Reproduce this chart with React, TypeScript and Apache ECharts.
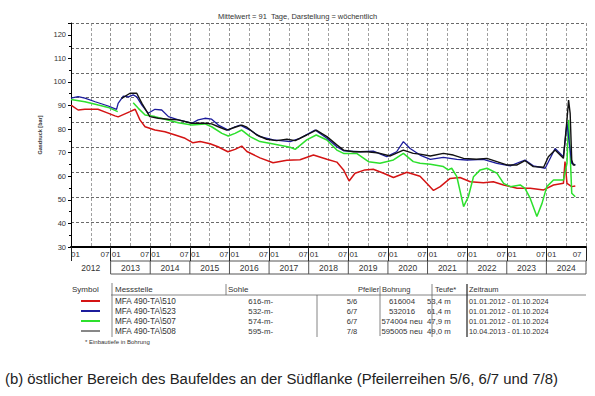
import React, { useEffect, useRef } from "react";
import * as echarts from "echarts";

// x values are decimal years (2012.0 = 01.01.2012)
const redSeries: [number, number][] = [
  [2012.0, 90.2], [2012.18, 88.1], [2012.35, 88.4], [2012.68, 88.4], [2012.9, 87.0], [2013.11, 85.6],
  [2013.19, 85.2], [2013.49, 87.4], [2013.62, 88.4], [2013.74, 83.9], [2013.87, 81.0], [2014.12, 79.6],
  [2014.37, 78.9], [2014.63, 77.5], [2014.88, 76.1], [2015.08, 74.2], [2015.26, 74.7], [2015.51, 73.8],
  [2015.71, 72.5], [2015.96, 70.4], [2016.14, 71.4], [2016.31, 72.8], [2016.44, 70.5], [2016.77, 67.8],
  [2017.1, 65.7], [2017.45, 66.8], [2017.78, 67.0], [2018.12, 69.0], [2018.46, 67.2], [2018.71, 66.0],
  [2018.88, 62.7], [2019.02, 58.0], [2019.17, 61.3], [2019.42, 62.7], [2019.63, 63.0], [2019.89, 61.3],
  [2020.14, 59.5], [2020.48, 61.7], [2020.81, 60.0], [2020.98, 57.0], [2021.15, 54.0], [2021.32, 55.6],
  [2021.57, 59.1], [2021.82, 59.5], [2022.08, 57.7], [2022.41, 57.3], [2022.66, 57.7], [2022.92, 56.3],
  [2023.26, 54.9], [2023.59, 54.9], [2023.93, 54.2], [2024.18, 56.3], [2024.43, 57.0], [2024.47, 66.2],
  [2024.52, 57.0], [2024.64, 55.6], [2024.73, 55.9],
];

const blueSeries: [number, number][] = [
  [2012.0, 93.1], [2012.18, 93.8], [2012.35, 93.1], [2012.61, 91.6], [2012.94, 89.8], [2013.15, 88.4],
  [2013.19, 90.9], [2013.32, 94.0], [2013.45, 93.7], [2013.57, 94.5], [2013.66, 93.7], [2013.79, 90.2],
  [2013.95, 86.7], [2014.12, 88.4], [2014.29, 88.1], [2014.46, 85.3], [2014.71, 83.9], [2015.05, 82.5],
  [2015.21, 83.9], [2015.38, 84.6], [2015.55, 84.2], [2015.72, 81.7], [2015.97, 79.6], [2016.14, 81.0],
  [2016.27, 81.7], [2016.52, 79.6], [2016.77, 76.8], [2017.11, 75.4], [2017.53, 74.7], [2017.78, 76.1],
  [2018.16, 79.6], [2018.46, 76.1], [2018.71, 72.5], [2018.88, 70.8], [2019.3, 70.4], [2019.63, 70.7],
  [2019.97, 68.3], [2020.22, 70.4], [2020.39, 74.7], [2020.56, 71.8], [2020.81, 69.0], [2021.07, 67.2],
  [2021.4, 68.0], [2021.74, 67.2], [2021.99, 66.9], [2022.41, 67.2], [2022.75, 65.5], [2023.09, 64.4],
  [2023.46, 66.9], [2023.67, 64.4], [2023.97, 63.4], [2024.22, 71.8], [2024.43, 68.3], [2024.52, 82.5],
  [2024.64, 65.5], [2024.73, 64.8],
];

const greenSeries: [number, number | string][] = [
  [2012.0, 92.6], [2012.35, 91.6], [2012.69, 90.2], [2012.94, 89.2], [2013.18, 87.4], [2013.3, "-"],
  [2013.57, 91.2], [2013.7, 88.8], [2013.87, 86.0], [2014.12, 85.3], [2014.37, 84.2], [2014.71, 82.7],
  [2015.05, 81.7], [2015.38, 82.2], [2015.55, 81.0], [2015.81, 78.2], [2015.97, 77.1], [2016.14, 78.2],
  [2016.31, 79.6], [2016.52, 76.8], [2016.77, 74.7], [2017.11, 73.7], [2017.53, 72.3], [2017.66, 71.4],
  [2017.95, 75.4], [2018.19, 77.5], [2018.46, 75.4], [2018.71, 71.1], [2018.88, 69.7], [2019.21, 69.7],
  [2019.51, 66.2], [2019.8, 65.5], [2020.14, 66.9], [2020.39, 69.7], [2020.64, 66.2], [2020.81, 65.5],
  [2021.07, 65.1], [2021.4, 64.1], [2021.52, 62.7], [2021.61, 63.4], [2021.74, 59.8], [2021.91, 47.1],
  [2022.03, 51.3], [2022.16, 59.8], [2022.33, 62.7], [2022.5, 63.4], [2022.75, 61.3], [2022.92, 57.0],
  [2023.09, 55.6], [2023.34, 56.3], [2023.46, 54.9], [2023.59, 50.7], [2023.76, 42.9], [2023.89, 48.5],
  [2024.01, 55.6], [2024.18, 58.4], [2024.43, 58.4], [2024.52, 65.5], [2024.56, 83.9], [2024.6, 69.7],
  [2024.64, 52.8], [2024.73, 51.3],
];

const blackSeries: [number, number][] = [
  [2013.28, 93.0], [2013.49, 95.2], [2013.66, 95.2], [2013.79, 90.9], [2013.99, 85.3], [2014.2, 84.6],
  [2014.46, 84.2], [2014.71, 83.9], [2015.05, 82.5], [2015.38, 82.5], [2015.55, 82.2], [2015.72, 81.0],
  [2015.93, 79.6], [2016.14, 80.8], [2016.31, 81.7], [2016.44, 80.8], [2016.69, 77.5], [2016.94, 75.7],
  [2017.19, 75.1], [2017.45, 75.7], [2017.66, 75.1], [2017.95, 77.5], [2018.19, 79.6], [2018.46, 76.8],
  [2018.71, 73.3], [2018.88, 71.1], [2019.13, 70.4], [2019.47, 70.4], [2019.72, 70.0], [2020.06, 68.6],
  [2020.39, 71.1], [2020.64, 69.7], [2020.81, 69.4], [2021.07, 68.6], [2021.4, 69.7], [2021.65, 69.0],
  [2021.91, 67.6], [2022.24, 67.2], [2022.5, 67.6], [2022.75, 66.2], [2023.0, 64.8], [2023.26, 64.8],
  [2023.46, 66.6], [2023.67, 64.1], [2023.93, 63.8], [2024.05, 68.3], [2024.22, 71.1], [2024.43, 67.6],
  [2024.52, 83.9], [2024.56, 92.3], [2024.6, 86.7], [2024.64, 66.9], [2024.68, 64.8], [2024.73, 64.8],
];

const yearLabels = ["2012", "2013", "2014", "2015", "2016", "2017", "2018", "2019", "2020", "2021", "2022", "2023", "2024"];
const yTickValues = [30, 40, 50, 60, 70, 80, 90, 100, 110, 120];

const stationNames = ["MFA 490-TA\\510", "MFA 490-TA\\523", "MFA 490-TA\\507", "MFA 490-TA\\508"];
const sohleValues = ["616-m-", "532-m-", "574-m-", "595-m-"];
const pfeilerValues = ["5/6", "6/7", "6/7", "7/8"];
const bohrungValues = ["616004", "532016", "574004 neu", "595005 neu"];
const teufeValues = ["53,4 m", "61,4 m", "47,9 m", "49,0 m"];
const zeitraumValues = ["01.01.2012 - 01.10.2024", "01.01.2012 - 01.10.2024", "01.01.2012 - 01.10.2024", "10.04.2013 - 01.10.2024"];
const seriesColors = ["#d41414", "#1c1c9c", "#2de02d", "#111111"];

const FONT = "Liberation Sans, Arial, sans-serif";

export default function App() {
  const ref = useRef<HTMLDivElement>(null);
  useEffect(() => {
    document.body.style.margin = "0";
    const chart = echarts.init(ref.current!, null, { renderer: "svg" });
    const gridLeft = 71, gridRight = 9, gridTop = 23, gridBottomY = 247;
    chart.setOption({
      animation: false,
      backgroundColor: "#ffffff",
      textStyle: { fontFamily: FONT },
      title: {
        text: "Mittelwert = 91  Tage, Darstellung = wöchentlich",
        left: "center",
        top: 7,
        textStyle: { fontSize: 7.5, fontWeight: "normal", color: "#333", fontFamily: FONT },
      },
      grid: { left: gridLeft, right: gridRight, top: gridTop, bottom: 396 - gridBottomY, containLabel: false },
      xAxis: [
        {
          type: "value",
          min: 2012,
          max: 2025,
          interval: 1,
          axisLine: { show: true, lineStyle: { color: "#000", width: 2 } },
          axisTick: { show: true, length: 14, lineStyle: { color: "#222", width: 1 } },
          axisLabel: {
            show: true,
            margin: 3,
            fontSize: 8,
            color: "#333",
            fontFamily: FONT,
            alignMinLabel: "left",
            alignMaxLabel: "right",
            formatter: (v: number) => (v === 2012 ? "01" : v === 2025 ? "07  " : "07 01"),
          },
          splitLine: { show: true, lineStyle: { color: "#777", type: [3, 2], width: 0.8 } },
          minorTick: { show: false, splitNumber: 2 },
          minorSplitLine: { show: true, lineStyle: { color: "#888", type: [3, 2], width: 0.8 } },
        },
        {
          type: "category",
          data: yearLabels,
          position: "bottom",
          offset: 14,
          boundaryGap: true,
          axisLine: { show: false },
          axisTick: { show: false },
          axisLabel: { margin: 2, fontSize: 8.5, color: "#333", fontFamily: FONT, interval: 0 },
          splitLine: { show: false },
        },
      ],
      yAxis: [
        {
          type: "value",
          min: 30,
          max: 125,
          interval: 10,
          axisLine: { show: true, lineStyle: { color: "#000", width: 1 } },
          axisTick: { show: true, length: 3, lineStyle: { color: "#000" } },
          minorTick: { show: true, splitNumber: 2, length: 2, lineStyle: { color: "#000" } },
          axisLabel: {
            fontSize: 7.5,
            color: "#333",
            margin: 5,
            fontFamily: FONT,
            showMaxLabel: false,
            formatter: (v: number) => (yTickValues.includes(v) ? String(v) : ""),
          },
          splitLine: { show: false },
          name: "Gasdruck [bar]",
          nameLocation: "middle",
          nameGap: 23,
          nameTextStyle: { fontSize: 5.5, color: "#333", fontWeight: "bold", fontFamily: FONT },
        },
        {
          type: "value",
          min: 0,
          max: 9,
          interval: 1,
          axisLine: { show: false },
          axisTick: { show: false },
          axisLabel: { show: false },
          splitLine: { show: true, lineStyle: { color: "#444", type: [3, 2], width: 0.8 } },
        },
      ],
      series: [
        { type: "line", name: stationNames[0], data: redSeries, showSymbol: false, lineStyle: { color: seriesColors[0], width: 1.5 }, itemStyle: { color: seriesColors[0] }, z: 2 },
        { type: "line", name: stationNames[2], data: greenSeries, showSymbol: false, connectNulls: false, lineStyle: { color: seriesColors[2], width: 1.5 }, itemStyle: { color: seriesColors[2] }, z: 3 },
        { type: "line", name: stationNames[1], data: blueSeries, showSymbol: false, lineStyle: { color: seriesColors[1], width: 1.3 }, itemStyle: { color: seriesColors[1] }, z: 4 },
        { type: "line", name: stationNames[3], data: blackSeries, showSymbol: false, lineStyle: { color: seriesColors[3], width: 1.4 }, itemStyle: { color: seriesColors[3] }, z: 5 },
      ],
    });

    // Year boxes below the axis, positioned from the axis scale
    const px = (yr: number) => chart.convertToPixel({ xAxisIndex: 0 }, yr) as number;
    const boxTop = gridBottomY + 14, boxBottom = gridBottomY + 27;
    const g: any[] = [];
    const ln = (x1: number, y1: number, x2: number, y2: number, stroke = "#555", lw = 1) =>
      g.push({ type: "line", silent: true, shape: { x1, y1, x2, y2 }, style: { stroke, lineWidth: lw } });
    const tx = (text: string, x: number, y: number, size = 7.5, align = "left", fill = "#333") =>
      g.push({ type: "text", silent: true, x, y, style: { text, fill, font: `${size}px ${FONT}`, textAlign: align, textVerticalAlign: "middle" } });

    const x13 = px(2013), x25 = px(2025);
    ln(x13, boxTop, x25, boxTop);
    ln(x13, boxBottom, x25, boxBottom);
    for (let y = 2013; y <= 2025; y++) ln(px(y), boxTop, px(y), boxBottom);

    // Legend table
    const hy = 289;
    tx("Symbol", 72, hy, 8);
    tx("Messstelle", 115, hy, 8);
    tx("Sohle", 228, hy, 8);
    tx("Pfeiler", 358, hy);
    tx("Bohrung", 382, hy);
    tx("Teufe*", 435, hy);
    tx("Zeitraum", 469, hy);
    ln(111, 295, 586, 295, "#666", 0.8);
    ln(112, 283, 112, 337, "#666", 0.8);
    ln(226, 284, 226, 295, "#666", 0.8);
    ln(317, 295, 317, 337, "#666", 0.8);
    ln(380, 286, 380, 336, "#666", 0.8);
    ln(432, 284, 432, 337, "#666", 0.8);
    ln(467, 284, 467, 337, "#333", 1.3);
    const rowY = [301, 311, 321, 331];
    const legendWidths = [2, 2, 2, 1];
    const legendOrder = [0, 1, 2, 3];
    legendOrder.forEach((i) => {
      const y = rowY[i];
      ln(81, y, 100, y, seriesColors[i], legendWidths[i]);
      tx(stationNames[i], 115, y, 8.2);
      tx(sohleValues[i], 273, y, 7.8, "right");
      tx(pfeilerValues[i], 352, y, 7.5, "center");
      tx(bohrungValues[i], 402, y, 7.8, "center");
      tx(teufeValues[i], 427, y, 7.8);
      tx(zeitraumValues[i], 469, y, 7.3);
    });
    tx("* Einbautiefe in Bohrung", 85, 342, 6);
    tx("(b) östlicher Bereich des Baufeldes an der Südflanke (Pfeilerreihen 5/6, 6/7 und 7/8)", 5, 379, 14.9, "left", "#222");

    chart.setOption({ graphic: g });
    return () => chart.dispose();
  }, []);
  return <div ref={ref} style={{ width: 595, height: 396 }} />;
}
